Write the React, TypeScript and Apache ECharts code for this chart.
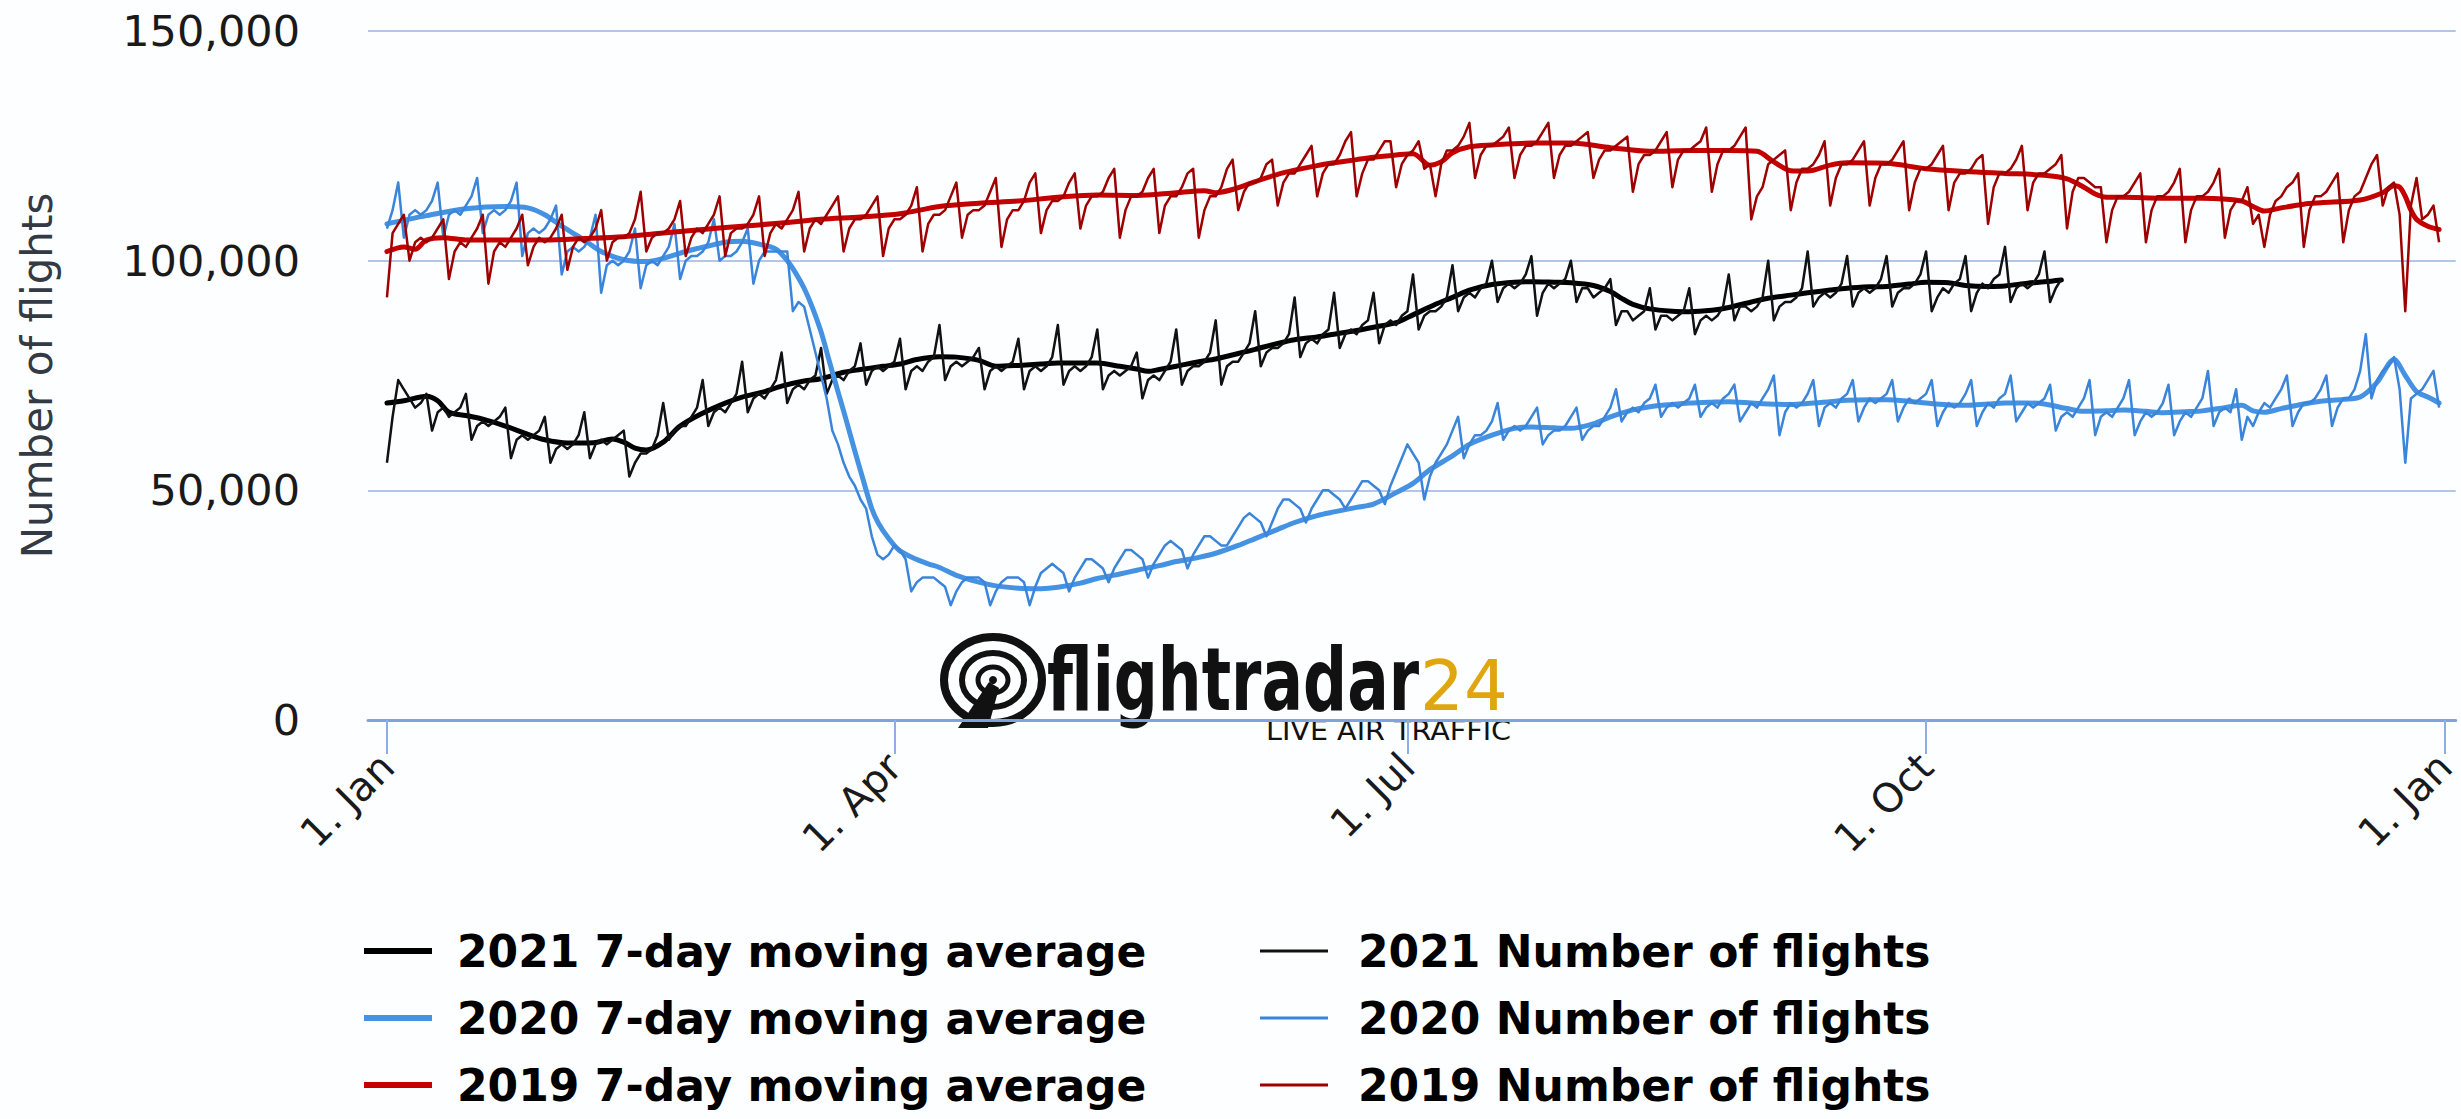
import React, { useEffect, useRef } from 'react';
import * as echarts from 'echarts';

// ---- axis ticks ----
const xTickDays = [0, 90, 181, 273, 365];
const xTickLabels = ['1. Jan', '1. Apr', '1. Jul', '1. Oct', '1. Jan'];
const yMax = 150000;
const yStep = 50000;

// ---- series names ----
const names = {
  ma2021: '2021 7-day moving average',
  d2021: '2021 Number of flights',
  ma2020: '2020 7-day moving average',
  d2020: '2020 Number of flights',
  ma2019: '2019 7-day moving average',
  d2019: '2019 Number of flights',
};

// ---- daily number of flights (thousands), index = day of year ----
const flights2019 = [
  92, 106, 108, 110,
  100, 104, 105, 104, 105, 107, 109,
  96, 102, 104, 103, 105, 107, 110,
  95, 102, 104, 103, 105, 107, 110,
  99, 103, 105, 104, 105, 107, 110,
  98, 103, 105, 104, 105, 107, 111,
  100, 104, 105, 105, 106, 109, 115,
  102, 105, 106, 106, 107, 109, 113,
  101, 105, 107, 106, 108, 110, 114,
  101, 106, 107, 107, 108, 110, 114,
  101, 106, 108, 107, 109, 111, 115,
  102, 107, 109, 108, 110, 112, 114,
  102, 107, 109, 109, 110, 112, 114,
  101, 107, 109, 109, 110, 112, 116,
  102, 108, 110, 110, 111, 114, 117,
  105, 110, 111, 111, 112, 115, 118,
  103, 109, 111, 111, 113, 117, 119,
  106, 111, 113, 113, 114, 117, 119,
  107, 112, 114, 114, 115, 118, 120,
  105, 111, 114, 114, 115, 118, 120,
  106, 112, 114, 114, 116, 119, 120,
  105, 111, 114, 114, 116, 120, 122,
  111, 115, 117, 117, 118, 121, 122,
  112, 117, 119, 119, 121, 123, 125,
  114, 119, 121, 121, 123, 126, 128,
  114, 119, 122, 122, 124, 126, 126,
  116, 121, 123, 124, 126, 120, 121,
  114, 121, 124, 124, 125, 127, 130,
  118, 123, 125, 125, 126, 127, 129,
  118, 123, 125, 125, 126, 128, 130,
  118, 123, 125, 125, 126, 127, 128,
  118, 122, 124, 124, 125, 126, 127,
  115, 121, 123, 123, 124, 126, 128,
  116, 122, 124, 124, 125, 126, 129,
  115, 121, 124, 124, 125, 127, 129,
  109, 114, 116, 121, 122, 123, 124,
  111, 117, 120, 120, 121, 123, 126,
  112, 118, 121, 121, 122, 124, 126,
  112, 118, 121, 121, 122, 124, 126,
  111, 117, 120, 120, 121, 123, 125,
  111, 117, 119, 119, 120, 122, 123,
  108, 116, 119, 119, 120, 122, 125,
  111, 117, 119, 119, 120, 121, 123,
  107, 115, 118, 118, 117, 116, 116,
  104, 111, 114, 114, 115, 117, 119,
  104, 111, 114, 114, 115, 117, 120,
  104, 111, 114, 114, 115, 117, 120,
  105, 111, 113, 113, 116, 108, 110,
  103, 110, 113, 114, 116, 117, 119,
  103, 111, 114, 114, 115, 117, 119,
  104, 111, 114, 115, 118, 121, 123,
  112, 116, 117, 110, 89, 112, 118, 109, 110, 112, 104,
];

const flights2020 = [
  107, 111, 117,
  105, 110, 111, 110, 111, 113, 117,
  105, 110, 111, 110, 112, 114, 118,
  106, 110, 111, 110, 111, 113, 117,
  101, 106, 107, 106, 107, 109, 112,
  97, 102, 103, 102, 103, 105, 110,
  93, 99, 100, 99, 100, 102, 107,
  94, 99, 100, 99, 101, 103, 108,
  96, 100, 101, 101, 102, 104, 109,
  100, 101, 101, 102, 104, 107,
  95, 100, 102, 102, 102, 102, 102,
  89, 91, 90, 85, 80, 75, 70, 63, 60, 56, 53, 51, 48, 46, 40, 36, 35, 36, 38, 37, 35,
  28, 30, 31, 31, 31, 30, 29,
  25, 28, 30, 31, 31, 31, 30,
  25, 28, 30, 31, 31, 31, 30,
  25, 29, 32, 33, 34, 33, 32,
  28, 31, 33, 35, 35, 34, 33,
  30, 33, 35, 37, 37, 36, 35,
  31, 34, 36, 38, 39, 38, 37,
  33, 36, 38, 40, 40, 39, 38,
  38, 40, 42, 44, 45, 44, 43,
  40, 43, 46, 48, 48, 47, 46,
  43, 46, 48, 50, 50, 49, 48,
  46, 48, 50, 52, 52, 51, 50,
  47, 51, 54, 57, 60, 58, 56,
  48, 53, 56, 58, 60, 63, 66,
  57, 60, 62, 62, 63, 65, 69,
  61, 63, 64, 63, 64, 66, 68,
  60, 62, 63, 63, 64, 66, 68,
  61, 63, 64, 64, 66, 68, 72,
  65, 67, 68, 67, 69, 70, 73,
  66, 68, 69, 68, 69, 70, 73,
  66, 68, 69, 68, 70, 71, 73,
  65, 67, 69, 68, 70, 72, 75,
  62, 67, 69, 68, 69, 71, 74,
  64, 68, 69, 68, 70, 71, 74,
  65, 68, 70, 69, 70, 71, 74,
  65, 68, 70, 69, 70, 71, 74,
  64, 67, 69, 68, 69, 71, 74,
  64, 67, 69, 68, 70, 71, 75,
  65, 67, 69, 68, 69, 70, 73,
  63, 66, 67, 66, 68, 70, 74,
  62, 66, 67, 66, 68, 70, 74,
  62, 65, 67, 66, 67, 69, 73,
  62, 65, 67, 66, 68, 70, 76,
  64, 67, 68, 67, 72, 61, 66,
  64, 67, 69, 68, 70, 72, 75,
  64, 67, 69, 69, 70, 72, 75,
  64, 68, 70, 70, 72, 76, 84,
  70, 74, 76, 77, 79, 72, 56, 70, 71, 72, 74, 76, 68,
];

const flights2021 = [
  56,
  66, 74, 72, 70, 68, 69, 71,
  63, 67, 68, 66, 67, 68, 71,
  61, 64, 65, 64, 65, 66, 68,
  57, 61, 62, 61, 62, 63, 66,
  56, 59, 60, 59, 60, 62, 67,
  57, 60, 61, 60, 61, 62, 63,
  53, 56, 58, 58, 59, 62, 69,
  61, 63, 64, 64, 66, 68, 74,
  64, 67, 68, 67, 69, 71, 78,
  67, 70, 71, 70, 72, 74, 80,
  69, 72, 73, 72, 74, 75, 81,
  71, 74, 75, 74, 76, 77, 82,
  73, 76, 77, 76, 77, 78, 83,
  72, 76, 77, 76, 78, 79, 86,
  74, 77, 78, 77, 78, 79, 81,
  72, 76, 77, 76, 77, 78, 83,
  72, 76, 77, 76, 77, 79, 86,
  73, 76, 77, 76, 77, 79, 85,
  72, 75, 76, 75, 76, 77, 80,
  70, 74, 75, 74, 76, 78, 85,
  73, 76, 77, 77, 78, 80, 87,
  73, 77, 78, 78, 80, 82, 89,
  77, 80, 81, 81, 82, 84, 92,
  79, 82, 83, 82, 84, 85, 93,
  81, 84, 85, 84, 86, 87, 93,
  82, 86, 87, 86, 88, 89, 97,
  85, 88, 89, 89, 90, 92, 99,
  89, 92, 93, 92, 94, 95, 100,
  91, 94, 95, 94, 95, 97, 101,
  88, 93, 95, 94, 95, 96, 100,
  91, 94, 94, 92, 93, 94, 96,
  86, 89, 89, 87, 88, 89, 94,
  85, 88, 88, 87, 88, 89, 94,
  84, 87, 88, 87, 88, 90, 97,
  87, 90, 90, 89, 90, 92, 100,
  87, 90, 91, 91, 92, 94, 102,
  90, 92, 93, 92, 93, 95, 101,
  90, 93, 94, 93, 94, 96, 101,
  90, 93, 94, 94, 95, 97, 102,
  89, 92, 94, 93, 95, 96, 101,
  89, 93, 95, 94, 96, 97, 103,
  91, 94, 95, 94, 95, 97, 102,
  91, 94, 96,
];

// ---- 7-day moving averages (thousands), [day of year, value] ----
const movingAvg2019 = [
  [0, 102], [3, 103], [5, 102.5], [7, 104.5], [10, 105], [14, 104.5], [21, 104.5], [28, 104.5],
  [35, 104.8], [42, 105.2], [49, 106], [56, 106.8], [63, 107.5], [70, 108.2], [77, 109], [84, 109.5],
  [91, 110.2], [98, 111.8], [105, 112.5], [112, 113], [119, 113.8], [126, 114.3], [133, 114.2],
  [140, 114.8], [145, 115.2], [147, 114.8], [150, 115.5], [154, 117.2], [158, 118.8], [161, 119.7],
  [165, 120.7], [168, 121.3], [172, 122], [175, 122.5], [179, 123], [182, 123.3], [185, 120.8],
  [187, 121.5], [189, 123.5], [192, 124.8], [196, 125.2], [203, 125.6], [210, 125.6], [217, 124.6],
  [224, 123.8], [231, 124], [238, 124], [243, 123.8], [246, 121.5], [249, 119.6], [252, 119.5],
  [256, 120.8], [259, 121.3], [266, 121.2], [273, 120], [280, 119.4], [287, 119], [294, 118.6],
  [298, 117.8], [301, 116], [303, 114.5], [305, 113.8], [308, 113.8], [315, 113.6], [322, 113.6],
  [329, 113], [331, 111.8], [333, 110.8], [336, 111.5], [340, 112.3], [343, 112.6], [350, 113.2],
  [354, 114.8], [356, 116.3], [357, 116], [358, 114], [359, 111], [360, 109], [362, 107.5], [364, 106.8],
];

const movingAvg2020 = [
  [0, 108], [7, 109.8], [14, 111.3], [21, 111.8], [25, 111.5], [28, 110], [31, 107.5], [35, 104.5],
  [38, 102], [42, 100.2], [46, 99.8], [49, 100.5], [53, 102], [57, 103.2], [60, 104], [63, 104.2],
  [66, 103.6], [69, 102.5], [71, 100], [72.5, 97.3], [74, 94], [75.4, 90], [77, 84.5], [78.4, 78.4],
  [80, 71.5], [81.3, 66], [83, 58.5], [84.3, 53], [86, 46], [87.2, 42.8], [89, 39.5], [90.8, 37],
  [93, 35.5], [96, 34], [98, 33.2], [101, 31.5], [105, 30], [108, 29.2], [112, 28.7], [116, 28.6],
  [119, 28.9], [123, 29.8], [126, 30.8], [130, 31.8], [133, 32.6], [137, 33.6], [140, 34.5],
  [144, 35.4], [147, 36.3], [151, 38], [154, 39.5], [158, 41.5], [161, 43], [165, 44.5], [168, 45.3],
  [172, 46.3], [175, 47], [179, 49.5], [182, 51.5], [185, 54.5], [189, 57.5], [192, 60], [196, 62],
  [200, 63.5], [203, 63.8], [207, 63.6], [210, 63.5], [214, 64.5], [217, 66], [221, 67.5], [224, 68.2],
  [228, 68.7], [231, 69], [235, 69.2], [238, 69.3], [242, 69], [245, 68.8], [249, 68.7], [252, 68.9],
  [256, 69.3], [259, 69.6], [263, 69.7], [266, 69.7], [270, 69.4], [273, 69], [277, 68.6], [280, 68.5],
  [284, 68.8], [287, 69], [291, 69], [294, 68.8], [298, 67.8], [301, 67.2], [305, 67.3], [308, 67.5],
  [312, 67.2], [315, 66.9], [319, 67.1], [322, 67.3], [326, 68], [329, 68.5], [331, 67.3], [333, 67],
  [336, 67.8], [340, 68.8], [343, 69.4], [347, 69.8], [350, 70.3], [353, 73.5], [356, 78.5],
  [358, 75], [360, 71.5], [362, 70.3], [364, 69],
];

const movingAvg2021 = [
  [0, 69], [3, 69.5], [7, 70.5], [9, 69.5], [11, 67], [14, 66.3], [17, 65.5], [21, 64], [25, 62.2],
  [28, 61], [32, 60.3], [35, 60.3], [37, 60.4], [40, 61.2], [42, 60.5], [44, 59.2], [46, 58.8],
  [49, 60.5], [52, 64], [56, 66.8], [60, 69], [63, 70.3], [67, 71.5], [70, 72.7], [74, 73.8],
  [77, 74.3], [81, 75.7], [84, 76.3], [88, 77], [91, 77.5], [94, 78.5], [98, 79.1], [101, 79],
  [105, 78.3], [108, 77], [112, 77.2], [116, 77.5], [119, 77.7], [123, 77.7], [126, 77.7], [130, 77],
  [133, 76.4], [135, 75.9], [137, 76.3], [140, 77], [144, 78], [147, 78.6], [151, 79.8], [154, 80.7],
  [158, 82], [161, 82.8], [165, 83.4], [168, 84], [172, 84.8], [175, 85.5], [179, 86.5], [182, 88.2],
  [186, 90.5], [189, 92], [192, 93.6], [196, 94.8], [200, 95.3], [203, 95.4], [207, 95.3], [210, 95.2],
  [214, 94.6], [217, 93.3], [219, 91.8], [221, 90.5], [224, 89.5], [228, 89], [231, 88.9], [235, 89.2],
  [238, 89.8], [242, 91], [245, 91.8], [249, 92.5], [252, 93], [256, 93.6], [259, 94], [263, 94.3],
  [266, 94.4], [270, 94.9], [273, 95.3], [277, 95.2], [280, 94.6], [284, 94.4], [287, 94.5],
  [291, 95.1], [294, 95.4], [297, 95.8],
];

// ---- colours ----
const colors = {
  ma2021: '#000000',
  d2021: '#111111',
  ma2020: '#4592e3',
  d2020: '#3a85da',
  ma2019: '#c40000',
  d2019: '#9e0000',
};

const dailyPairs = (arr: number[]) => arr.map((v, i) => [i, v * 1000]);
const maPairs = (arr: number[][]) => arr.map(([d, v]) => [d, v * 1000]);

function buildOption(): any {
  const maLine = (name: string, color: string, data: number[][]) => ({
    name,
    type: 'line',
    data,
    color,
    showSymbol: false,
    symbol: 'none',
    smooth: 0.3,
    lineStyle: { color, width: 5, cap: 'round', join: 'round' },
    emphasis: { disabled: true },
  });
  const dayLine = (name: string, color: string, data: number[][]) => ({
    name,
    type: 'line',
    data,
    color,
    showSymbol: false,
    symbol: 'none',
    lineStyle: { color, width: 2.5, join: 'round' },
    emphasis: { disabled: true },
  });

  const legendText = {
    fontFamily: 'DejaVu Sans',
    fontWeight: 'bold',
    fontSize: 44,
    color: '#000',
  };

  // one legend per entry, laid out in two columns and three rows
  const rowTops = [929, 996, 1063];
  const legendEntry = (name: string, left: number, row: number, thick: boolean) => ({
    orient: 'horizontal',
    left,
    top: rowTops[row],
    padding: 0,
    itemWidth: 68,
    itemHeight: thick ? 6 : 3,
    selectedMode: false,
    textStyle: { ...legendText, padding: [0, 0, 0, thick ? 20 : 25] },
    data: [{ name, icon: 'rect' }],
  });

  const logoFont = '"DejaVu Sans"';

  return {
    animation: false,
    backgroundColor: '#fdfeff',
    grid: { left: 368, right: 0, top: 31, bottom: 399, containLabel: false },
    xAxis: {
      type: 'value',
      min: -3.36,
      max: 366.95,
      axisLine: { show: true, lineStyle: { color: '#7fa3e0', width: 3 } },
      axisTick: {
        show: true,
        customValues: xTickDays,
        length: 34,
        lineStyle: { color: '#8eaee3', width: 2 },
      },
      axisLabel: {
        customValues: xTickDays,
        rotate: 45,
        margin: 40,
        fontFamily: 'DejaVu Sans',
        fontSize: 40,
        color: '#1a1a1a',
        formatter: (v: number) => {
          const i = xTickDays.indexOf(Math.round(v));
          return i >= 0 ? xTickLabels[i] : '';
        },
      },
      splitLine: { show: false },
    },
    yAxis: {
      type: 'value',
      min: 0,
      max: yMax,
      interval: yStep,
      name: 'Number of flights',
      nameLocation: 'middle',
      nameRotate: 90,
      nameGap: 310,
      nameTextStyle: { fontFamily: 'DejaVu Sans', fontSize: 42, color: '#333a44' },
      axisLine: { show: false },
      axisTick: { show: false },
      axisLabel: {
        margin: 68,
        fontFamily: 'DejaVu Sans',
        fontSize: 43,
        color: '#1a1a1a',
        formatter: (v: number) => v.toLocaleString('en-US'),
      },
      splitLine: { show: true, lineStyle: { color: '#b3c6ea', width: 2 } },
    },
    legend: [
      legendEntry(names.ma2021, 364, 0, true),
      legendEntry(names.d2021, 1260, 0, false),
      legendEntry(names.ma2020, 364, 1, true),
      legendEntry(names.d2020, 1260, 1, false),
      legendEntry(names.ma2019, 364, 2, true),
      legendEntry(names.d2019, 1260, 2, false),
    ],
    series: [
      maLine(names.ma2021, colors.ma2021, maPairs(movingAvg2021)),
      dayLine(names.d2021, colors.d2021, dailyPairs(flights2021)),
      maLine(names.ma2020, colors.ma2020, maPairs(movingAvg2020)),
      dayLine(names.d2020, colors.d2020, dailyPairs(flights2020)),
      maLine(names.ma2019, colors.ma2019, maPairs(movingAvg2019)),
      dayLine(names.d2019, colors.d2019, dailyPairs(flights2019)),
    ],
    graphic: {
      elements: [
        {
          type: 'group',
          z: 100,
          children: [
            { type: 'ellipse', shape: { cx: 993, cy: 680, rx: 49, ry: 43 }, style: { fill: 'none', stroke: '#111', lineWidth: 8 } },
            { type: 'ellipse', shape: { cx: 993, cy: 680, rx: 31, ry: 27 }, style: { fill: 'none', stroke: '#111', lineWidth: 6 } },
            { type: 'ellipse', shape: { cx: 993, cy: 680, rx: 15, ry: 13 }, style: { fill: 'none', stroke: '#111', lineWidth: 5 } },
            { type: 'circle', shape: { cx: 993, cy: 680, r: 4 }, style: { fill: '#111' } },
            { type: 'polygon', shape: { points: [[989, 682], [999, 688], [988, 728], [958, 728]] }, style: { fill: '#111' } },
            {
              type: 'text',
              x: 1047,
              y: 680,
              scaleX: 0.7,
              style: { text: 'flightradar', font: `bold 88px ${logoFont}`, fill: '#111', verticalAlign: 'middle', align: 'left' },
            },
            {
              type: 'text',
              x: 1420,
              y: 686,
              style: { text: '24', font: `69px ${logoFont}`, fill: '#e0a610', verticalAlign: 'middle', align: 'left' },
            },
            {
              type: 'text',
              x: 1266,
              y: 731,
              scaleX: 1.1,
              style: { text: 'LIVE AIR TRAFFIC', font: `26px ${logoFont}`, fill: '#111', verticalAlign: 'middle', align: 'left' },
            },
          ],
        },
      ],
    },
  };
}

export default function App() {
  const ref = useRef<HTMLDivElement>(null);
  useEffect(() => {
    if (!ref.current) return;
    const chart = echarts.init(ref.current, null, { renderer: 'svg' });
    chart.setOption(buildOption());
    return () => chart.dispose();
  }, []);
  return (
    <div
      ref={ref}
      style={{ position: 'absolute', left: 0, top: 0, width: 2461, height: 1119, background: '#fdfeff' }}
    />
  );
}
